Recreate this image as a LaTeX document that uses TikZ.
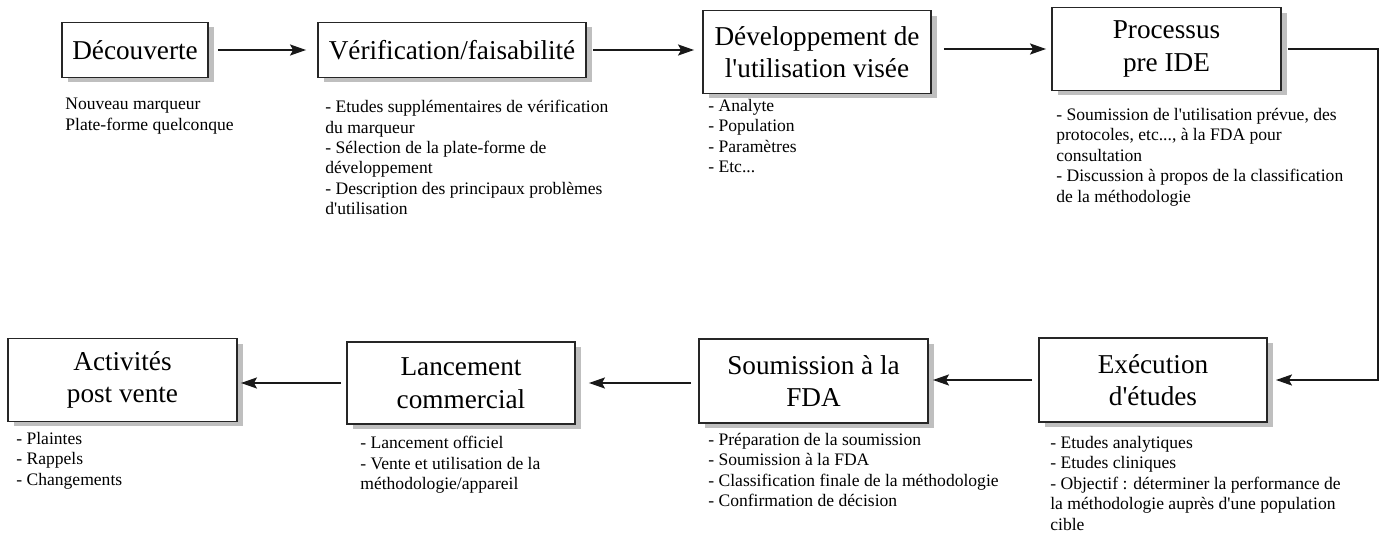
\documentclass[tikz,border=0pt]{standalone}
\usepackage{fontspec}
\setmainfont{Liberation Serif}
\usetikzlibrary{positioning, arrows.meta, shadows}

\begin{document}
\begin{tikzpicture}[
        x=0.02cm, y=-0.02cm,
        stage/.style={rectangle, draw=black!85, line width=1.1pt, fill=white,
                      inner sep=0pt, align=center,
                      font=\fontsize{15.5}{18.5}\selectfont,
                      drop shadow={shadow xshift=0.12cm, shadow yshift=-0.1cm,
                                   fill=black!25, opacity=1}},
        note/.style={anchor=north west, inner sep=0pt, align=left,
                     font=\fontsize{10}{11.6}\selectfont},
        link/.style={-{Stealth[length=3.2mm, width=2.2mm, inset=0.6mm]},
                     line width=1.1pt, draw=black!90},
    ]
    \useasboundingbox (0,0) rectangle (1383,533);

    % Top row, left to right
    \node[stage, minimum width=2.92cm, minimum height=1.1cm]  (decouv) at (135,50)    {Découverte};
    \node[stage, minimum width=5.36cm, minimum height=1.1cm]  (verif)  at (452,50)    {Vérification/faisabilité};
    \node[stage, minimum width=4.56cm, minimum height=1.66cm] (devel)  at (817,52)    {Développement de\\l\textquotesingle utilisation visée};
    \node[stage, minimum width=4.58cm, minimum height=1.66cm] (preide) at (1166.5,49) {Processus\\pre IDE};

    % Bottom row, right to left
    \node[stage, minimum width=4.56cm, minimum height=1.68cm] (execut) at (1153,380)  {Exécution\\d\textquotesingle études};
    \node[stage, minimum width=4.58cm, minimum height=1.68cm] (soumis) at (813.5,381) {Soumission à la\\FDA};
    \node[stage, minimum width=4.56cm, minimum height=1.64cm] (lancem) at (461,383)   {Lancement\\commercial};
    \node[stage, minimum width=4.58cm, minimum height=1.66cm] (activi) at (122.5,380) {Activités\\post vente};

    % Notes under each stage
    \node[note] (decouvtxt) at (65,98)    {Nouveau marqueur\\Plate-forme quelconque};
    \node[note] (veriftxt)  at (325,100)  {- Etudes supplémentaires de vérification\\du marqueur\\- Sélection de la plate-forme de\\développement\\- Description des principaux problèmes\\d\textquotesingle utilisation};
    \node[note] (develtxt)  at (708,99)   {- Analyte\\- Population\\- Paramètres\\- Etc...};
    \node[note] (preidetxt) at (1056,108) {- Soumission de l\textquotesingle utilisation prévue, des\\protocoles, etc..., à la FDA pour\\consultation\\- Discussion à propos de la classification\\de la méthodologie};
    \node[note] (executtxt) at (1050,436) {- Etudes analytiques\\- Etudes cliniques\\- Objectif : déterminer la performance de\\la méthodologie auprès d\textquotesingle une population\\cible};
    \node[note] (soumistxt) at (708,433)  {- Préparation de la soumission\\- Soumission à la FDA\\- Classification finale de la méthodologie\\- Confirmation de décision};
    \node[note] (lancemtxt) at (360,436)  {- Lancement officiel\\- Vente et utilisation de la\\méthodologie/appareil};
    \node[note] (activitxt) at (16,432)   {- Plaintes\\- Rappels\\- Changements};

    % Flow
    \draw[link, shorten <=0.18cm, shorten >=0.22cm] (decouv) -- (verif);
    \draw[link, shorten <=0.12cm, shorten >=0.16cm] (verif) -- (devel.west |- verif);
    \draw[link, shorten <=0.24cm, shorten >=0.1cm] (devel.east |- preide) -- (preide);
    \draw[link, shorten <=0.12cm, shorten >=0.16cm] (preide.east) -- ++(96,0) |- (execut.east);
    \draw[link, shorten <=0.12cm, shorten >=0.08cm] (execut) -- (soumis.east |- execut);
    \draw[link, shorten <=0.14cm, shorten >=0.26cm] (soumis.west |- lancem) -- (lancem);
    \draw[link, shorten <=0.1cm, shorten >=0.06cm] (lancem.west) -- (activi.east |- lancem.west);
\end{tikzpicture}
\end{document}
